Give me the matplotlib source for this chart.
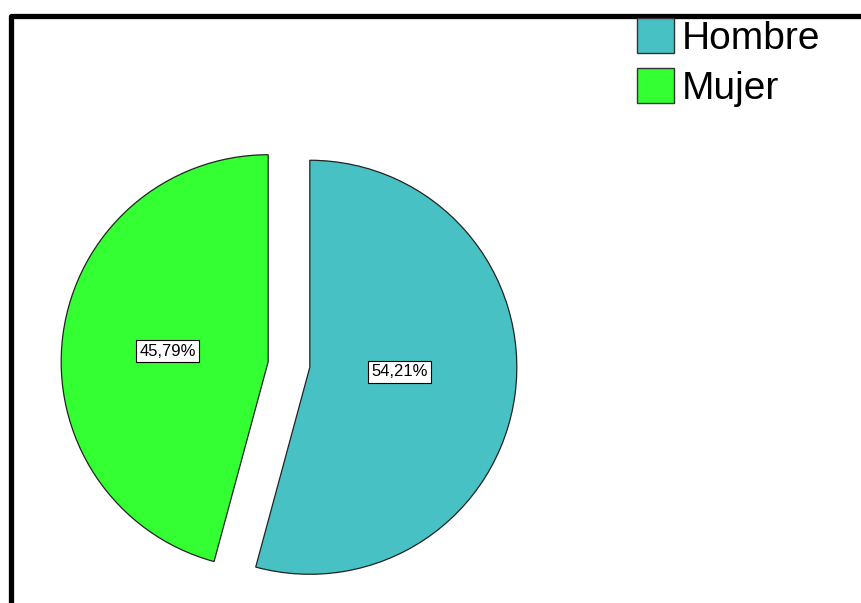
import matplotlib.pyplot as plt
from matplotlib.patches import Rectangle

plt.rcParams['font.family'] = ['Liberation Sans', 'DejaVu Sans']

# datos
sexo = ["Hombre", "Mujer"]
porcentajes = [54.21, 45.79]
colores = ["#48C1C4", "#33FF33"]

W, H = 861, 603
fig = plt.figure(figsize=(W / 100, H / 100), dpi=100)
ax = fig.add_axes([0, 0, 1, 1])
ax.set_xlim(0, W)
ax.set_ylim(0, H)
ax.set_aspect("equal")
ax.axis("off")

# marco negro (sale por la derecha y abajo)
marco = Rectangle((10.5, -20), W + 40, H - 15.5 + 20, fill=False,
                  edgecolor="black", linewidth=3.8, joinstyle="round")
ax.add_patch(marco)

wedges, textos, autotextos = ax.pie(
    porcentajes, colors=colores, startangle=90, counterclock=False,
    explode=[21, 21], center=(289, H - 364.5), radius=207,
    autopct=lambda p: f"{p:.2f}%".replace(".", ","), pctdistance=0.46,
    wedgeprops=dict(edgecolor="#222222", linewidth=0.9),
    textprops=dict(fontsize=12, color="black"),
)
ax.set_xlim(0, W)
ax.set_ylim(0, H)

for t in autotextos:
    t.set_bbox(dict(boxstyle="square,pad=0.2", facecolor="white",
                    edgecolor="black", linewidth=0.8))
# SPSS deja las etiquetas un poco mas arriba / a la izquierda
x0, y0 = autotextos[0].get_position()
autotextos[0].set_position((x0 - 5, y0 + 8))
x1, y1 = autotextos[1].get_position()
autotextos[1].set_position((x1 - 6, y1 - 2))

leg = ax.legend(wedges, sexo, loc="upper left", bbox_to_anchor=(637 / W, 1 - 18 / H),
                frameon=False, fontsize=28, handlelength=0.95, handleheight=1.0,
                handletextpad=0.2, labelspacing=0.3, borderpad=0, borderaxespad=0)
for h in leg.legend_handles:
    h.set_edgecolor("#333333")
    h.set_linewidth(1.0)

fig.savefig("out.png", dpi=100)
